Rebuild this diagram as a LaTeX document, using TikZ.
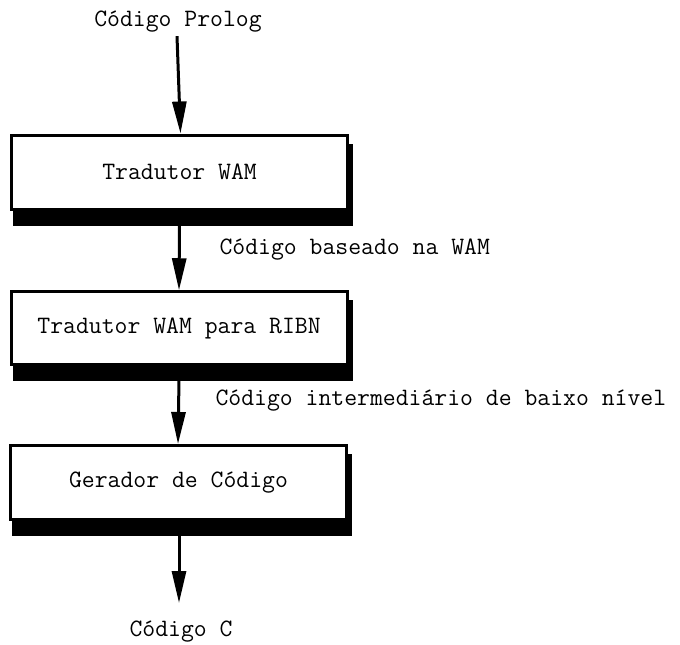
\documentclass[tikz,border=0pt]{standalone}
\usetikzlibrary{arrows.meta,calc,backgrounds}
\begin{document}
\begin{tikzpicture}[x=1pt,y=-1pt,
  every node/.style={font=\fontsize{25}{29}\selectfont\ttfamily},
  stage/.style={draw,line width=3pt,fill=white,minimum width=336pt,minimum height=74pt,inner sep=0pt},
  flow/.style={line width=3pt,-{Triangle[length=32pt,width=14pt]}},
  shade/.style={fill=black}]
  \useasboundingbox (0,0) rectangle (680,645);

  % processing stages
  \node[stage] (b1) at (179.5,172) {Tradutor WAM\hspace{14pt}};
  \node[stage,minimum height=72.5pt] (b2) at (179,328) {Tradutor WAM para RIBN};
  \node[stage] (b3) at (178.5,482.5) {Gerador de Código};

  % drop shadows below and to the right of each stage
  \begin{scope}[on background layer]
    \foreach \b in {b1,b2,b3}
      \fill[shade] ($(\b.north west)+(3,10)$) rectangle ($(\b.south east)+(4,15)$);
  \end{scope}

  % input, intermediate and output texts
  \node (src) at (178,22) {Código Prolog};
  \node[anchor=west] (t1) at (216,250) {Código baseado na WAM};
  \node[anchor=west] (t2) at (212,401) {Código intermediário de baixo nível};
  \node (out) at (181,632) {Código C};

  % flow between the stages
  \draw[flow] ($(src.south)+(-1,0)$) -- ($(b1.north)+(1,0)$);
  \draw[flow] ($(b1.south)+(0,14)$) -- (b2.north);
  \draw[flow] ($(b2.south)+(0,14)$) -- ($(b3.north)+(-0.5,0)$);
  \draw[flow] ($(b3.south)+(0.5,11)$) -- ($(b3.south)+(0.5,82)$) coordinate (end);
\end{tikzpicture}
\end{document}
